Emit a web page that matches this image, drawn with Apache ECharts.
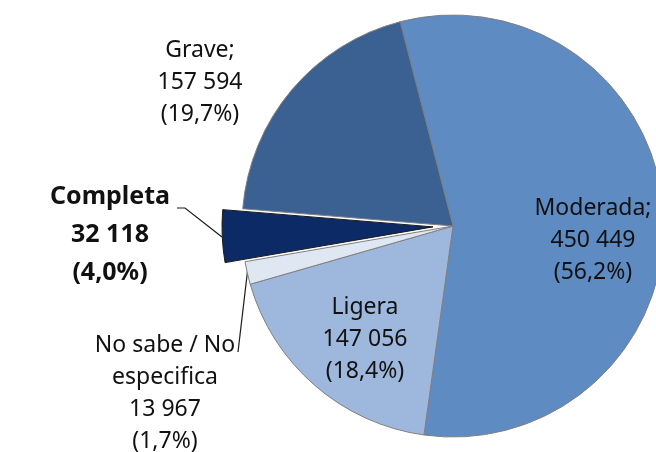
<!DOCTYPE html>
<html>
<head>
<meta charset="utf-8">
<script src="https://cdn.jsdelivr.net/npm/echarts@6/dist/echarts.min.js"></script>
<style>
html,body{margin:0;padding:0;background:#fff;}
#chart{width:656px;height:452px;}
</style>
</head>
<body>
<div id="chart"></div>
<script>
// Data
var categories = ['Moderada', 'Ligera', 'No sabe / No especifica', 'Completa', 'Grave'];
var labelTitles = ['Moderada;', 'Ligera', 'No sabe / No\nespecifica', 'Completa', 'Grave;'];
var values = [450449, 147056, 13967, 32118, 157594];
var colors = ['#5f8bc3', '#9db8dc', '#dfe7f3', '#0b2a66', '#3a6192'];

// Label placement (style only)
var labelPos = [[593, 240], [365, 339], [165, 393], [110, 235], [200, 82]];
var leaderPts = {
  2: [[238, 352], [238, 352], [248, 267]],
  3: [[177, 208], [185, 208], [222, 237]]
};

function fmtNum(v) {
  return String(v).replace(/\B(?=(\d{3})+(?!\d))/g, ' ');
}

var pieCommon = {
  type: 'pie',
  center: [453, 226],
  radius: 211,
  startAngle: 104.5,
  clockwise: true,
  percentPrecision: 1,
  avoidLabelOverlap: false,
  emphasis: { disabled: true }
};

// Slices (no labels)
var sliceData = categories.map(function (c, i) {
  var item = { name: c, value: values[i], itemStyle: { color: colors[i] } };
  if (i === 3) {
    item.selected = true;
    item.itemStyle.borderColor = '#1a1a1a';
  }
  return item;
});

// Labels (transparent copy of the same pie)
var labelData = categories.map(function (c, i) {
  var item = {
    name: c,
    value: values[i],
    labelLine: { show: !!leaderPts[i] }
  };
  if (i === 3) {
    item.label = { fontWeight: 'bold', fontSize: 25, lineHeight: 38 };
  }
  return item;
});

var chart = echarts.init(document.getElementById('chart'), null, { renderer: 'canvas' });
chart.setOption({
  animation: false,
  series: [
    Object.assign({}, pieCommon, {
      selectedMode: 'single',
      selectedOffset: 20,
      itemStyle: { borderColor: '#7f7f7f', borderWidth: 1 },
      label: { show: false },
      labelLine: { show: false },
      data: sliceData
    }),
    Object.assign({}, pieCommon, {
      silent: true,
      selectedMode: false,
      itemStyle: { color: 'rgba(0,0,0,0)', borderWidth: 0 },
      label: {
        show: true,
        position: 'outside',
        fontFamily: 'Noto Sans',
        fontSize: 23,
        lineHeight: 32,
        color: '#111',
        align: 'center',
        formatter: function (p) {
          return labelTitles[p.dataIndex] + '\n' + fmtNum(p.value) + '\n(' +
            p.percent.toFixed(1).replace('.', ',') + '%)';
        }
      },
      labelLine: { lineStyle: { color: '#1a1a1a', width: 1.2 } },
      labelLayout: function (params) {
        var i = params.dataIndex;
        var o = {
          x: labelPos[i][0],
          y: labelPos[i][1],
          align: 'center',
          verticalAlign: 'middle'
        };
        if (leaderPts[i]) o.labelLinePoints = leaderPts[i];
        return o;
      },
      data: labelData
    })
  ]
});
</script>
</body>
</html>
